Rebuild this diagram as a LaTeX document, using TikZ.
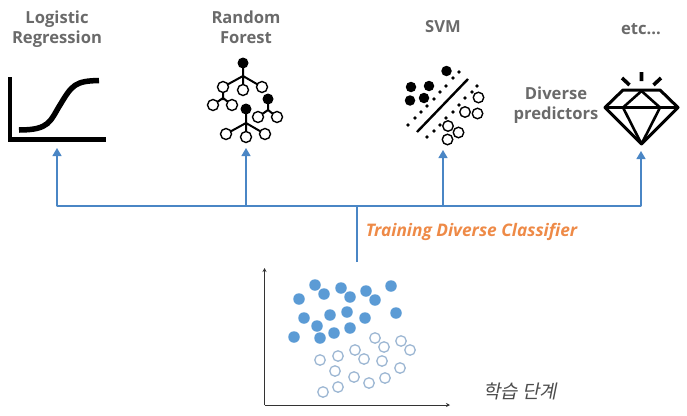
\documentclass[tikz,border=0pt]{standalone}
\usepackage{fontspec}
\setmainfont{Open Sans}
\newfontfamily\krfont[FakeSlant=0.2]{Noto Sans CJK KR}
\usetikzlibrary{arrows.meta}
\definecolor{linkblue}{HTML}{4A86C5}
\definecolor{dotblue}{HTML}{5B9BD5}
\definecolor{ringblue}{HTML}{9DB7D3}
\definecolor{titlegray}{HTML}{6A6A6A}
\definecolor{trainorange}{HTML}{EE8A47}
\tikzset{
  title/.style={font=\fontsize{16.6}{20}\selectfont\bfseries,text=titlegray,align=center,inner sep=0pt},
  link/.style={draw=linkblue,line width=1.3pt},
  linkarrow/.style={link,-{Triangle[length=8pt,width=9pt]}},
  axis/.style={draw=black!80,line width=1pt,-{Stealth[length=4pt,width=4pt]}},
  icon/.style={line width=2pt,black},
  filled/.style={circle,fill=black,inner sep=0pt,minimum size=#1},
  ring/.style={circle,draw=black,line width=1.4pt,fill=white,inner sep=0pt,minimum size=#1},
  bluedot/.style={circle,fill=dotblue,inner sep=0pt,minimum size=11.5pt},
  bluering/.style={circle,draw=ringblue,line width=1.3pt,inner sep=0pt,minimum size=10.5pt},
}
\begin{document}
\begin{tikzpicture}[x=1pt,y=-1pt]
  \useasboundingbox (0,0) rectangle (687,415);
  % titles
  \node[title] (lr) at (57,29.5) {Logistic\\Regression};
  \node[title] (rf) at (246,27) {Random\\Forest};
  \node[title] (svm) at (443,26.5) {SVM};
  \node[title] (etc) at (641,29) {etc...};
  \node[title] (div) at (556,105.5) {Diverse\\predictors};
  % logistic curve
  \draw[line width=4.5pt] (10,77) -- (10,139.5) -- (106,139.5);
  \draw[line width=5.5pt] (19,130) .. controls (50,130) and (50,121) .. (60,105) .. controls (72,85) and (75,81) .. (99,80.5);
  % forest
  \draw[icon] (243,63) -- (243,90) (223,87) -- (243,76) -- (262,87);
  \draw[icon] (223,87) -- (223,100) (213,105) -- (223,98) -- (232,105);
  \draw[icon] (268,99) -- (268,110) (258,117) -- (268,110) -- (277,117);
  \draw[icon] (246,109) -- (246,137) (226,134) -- (246,123) -- (265,134);
  \foreach \x/\y in {243/63,268/99,246/109}
    \node[filled=11pt] (root\x) at (\x,\y) {};
  \foreach \x/\y in {223/87,243/90,262/87,213/105,232/105,258/117,277/117,226/134,246/137,265/134}
    \node[ring=11pt] (leaf\x) at (\x,\y) {};
  % svm
  \draw[line width=2.4pt] (417,132) -- (468,79);
  \foreach \x/\y in {408/125,415/118,421/112,427/106,434/99,440/92,446/86,453/78,459/72,427/137,434/131,440/125,446/118,453/112,459/105,465/98,472/92,477/86}
    \fill (\x,\y) circle (1.8);
  \foreach \x/\y in {446.5/71,411/87,429/86,410/100.5,424/98}
    \node[filled=10.5pt] (pos\x) at (\x,\y) {};
  \foreach \x/\y in {478.5/97.5,465/112,477.5/113.5,448/126,458.5/132.5,447.5/139.5}
    \node[ring=10.5pt,fill=none] (neg\x) at (\x,\y) {};
  % diamond
  \draw[line width=3pt,line join=round] (623,90) -- (660,90) -- (678,107.5) -- (641.5,144) -- (605,107.5) -- cycle;
  \draw[line width=2.6pt,line join=round] (605,107.5) -- (678,107.5) (623,107.5) -- (641.5,91) -- (660,107.5);
  \draw[line width=2.6pt,line join=round] (623,107.5) -- (641.5,144) -- (660,107.5);
  \draw[line width=3.6pt] (641.5,72) -- (641.5,81) (622,78) -- (629.5,85) (661,78) -- (653.5,85);
  % links
  \coordinate (trunk) at (357,262);
  \coordinate (fork) at (357,206);
  \coordinate (barlr) at (57,206);
  \coordinate (barrf) at (246,206);
  \coordinate (barsvm) at (443,206);
  \coordinate (baretc) at (641,206);
  \coordinate (tiplr) at (57,148);
  \coordinate (tiprf) at (246,148);
  \coordinate (tipsvm) at (443,150);
  \coordinate (tipetc) at (641,151);
  \draw[link] (trunk) -- (fork);
  \draw[link,line cap=round] (barlr) -- (baretc);
  \draw[linkarrow] (barlr) -- (tiplr);
  \draw[linkarrow] (barrf) -- (tiprf);
  \draw[linkarrow] (barsvm) -- (tipsvm);
  \draw[linkarrow] (baretc) -- (tipetc);
  \node[font=\fontsize{17.3}{20}\selectfont\bfseries\itshape,text=trainorange,inner sep=0pt] (train) at (471.5,232) {Training Diverse Classifier};
  % scatter
  \coordinate (origin) at (264.5,405);
  \coordinate (xend) at (450,405);
  \coordinate (yend) at (264.5,268);
  \draw[axis] (origin) -- (xend);
  \draw[axis] (origin) -- (yend);
  \foreach \x/\y in {315/285,324/294,341/288,350/297,366/291,375/300,391/286,299/299,304/318,330/315,347/312,365/318,396/313,317/326,334/333,350/328,294/337,320/338}
    \node[bluedot] at (\x,\y) {};
  \foreach \x/\y in {375/338,384/347,401/341,410/350,355/350,364/359,382/361,320/360,338/356,335/371,400/368,354/377,369/383,385/378,323/392,338/387}
    \node[bluering] at (\x,\y) {};
  \node[font=\krfont\fontsize{18.8}{22}\selectfont,text=black!70,inner sep=0pt] (phase) at (520,391) {학습 단계};
\end{tikzpicture}
\end{document}
